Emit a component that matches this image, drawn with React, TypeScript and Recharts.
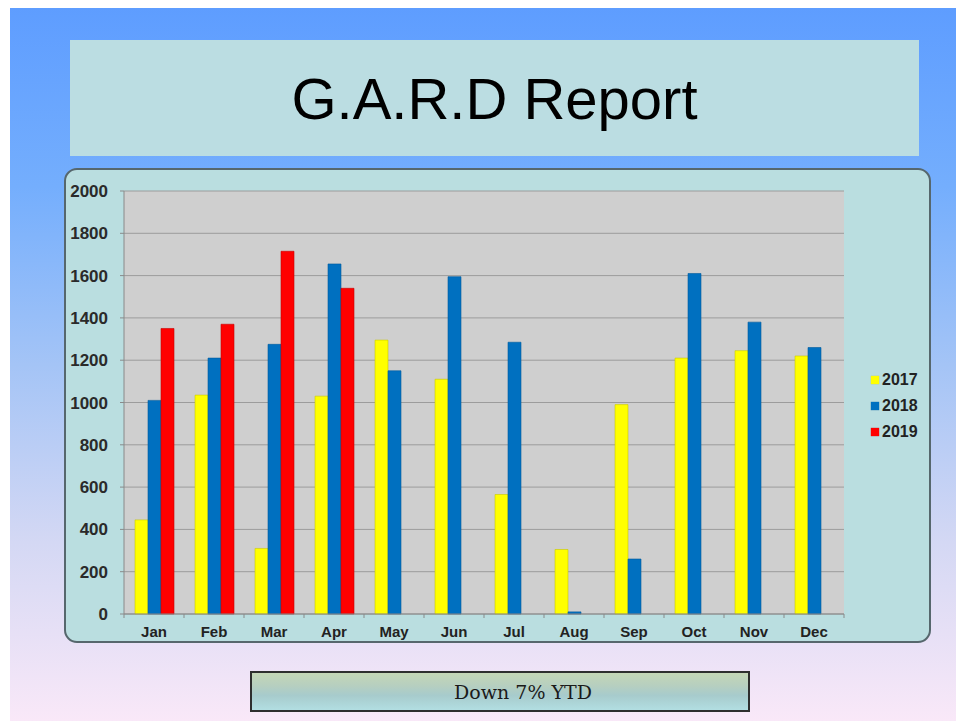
import React from 'react';
import { BarChart, Bar, XAxis, YAxis, CartesianGrid, Legend } from 'recharts';

const months = ['Jan', 'Feb', 'Mar', 'Apr', 'May', 'Jun', 'Jul', 'Aug', 'Sep', 'Oct', 'Nov', 'Dec'];
const values2017 = [445, 1035, 310, 1030, 1295, 1110, 565, 305, 990, 1210, 1245, 1220];
const values2018 = [1010, 1210, 1275, 1655, 1150, 1595, 1285, 10, 260, 1610, 1380, 1260];
const values2019 = [1350, 1370, 1715, 1540, null, null, null, null, null, null, null, null];
const yTicks = [0, 200, 400, 600, 800, 1000, 1200, 1400, 1600, 1800, 2000];
const seriesNames = ['2017', '2018', '2019'];
const seriesColors = ['#ffff00', '#0070c0', '#ff0000'];
const seriesStrokes = ['#c9c900', '#005a9c', '#c80000'];

const data = months.map((m, i) => ({
  month: m,
  y2017: values2017[i],
  y2018: values2018[i],
  y2019: values2019[i],
}));

const FONT = '"Liberation Sans", Arial, sans-serif';

const XTick = (props: any) => {
  const { x, y, payload, index } = props;
  const off = payload && payload.offset ? payload.offset : 0;
  const axisY = y - 8;
  return (
    <g>
      <line x1={x - off} y1={axisY} x2={x - off} y2={axisY + 4} stroke="#8a8a8a" />
      {index === months.length - 1 ? (
        <line x1={x + off} y1={axisY} x2={x + off} y2={axisY + 4} stroke="#8a8a8a" />
      ) : null}
      <text x={x} y={axisY + 12} dy="0.71em" textAnchor="middle" fill="#222" fontSize={15} fontWeight="bold" fontFamily={FONT}>
        {payload.value}
      </text>
    </g>
  );
};

const LegendContent = () => (
  <div style={{ fontFamily: FONT }}>
    {seriesNames.map((n, i) => (
      <div key={n} style={{ display: 'flex', alignItems: 'center', height: 26 }}>
        <div style={{ width: 8, height: 8, background: seriesColors[i], marginRight: 3, boxShadow: '0 0 1px ' + seriesStrokes[i] }} />
        <span style={{ fontSize: 16, fontWeight: 'bold', color: '#222' }}>{n}</span>
      </div>
    ))}
  </div>
);

export default function App() {
  return (
    <div style={{ position: 'absolute', left: 0, top: 0, width: 956, height: 721, background: '#ffffff', overflow: 'hidden' }}>
      <div
        style={{
          position: 'absolute', left: 10, top: 8, width: 946, height: 713,
          background: 'linear-gradient(to bottom, #5e9dff 0%, #74aefd 25%, #a4c4f6 50%, #d4d8f4 75%, #f9e8f8 100%)',
        }}
      />
      <div
        style={{
          position: 'absolute', left: 70, top: 40, width: 849, height: 116, background: '#bbdde2',
          display: 'flex', alignItems: 'center', justifyContent: 'center',
          fontFamily: FONT, fontSize: 58, color: '#000',
        }}
      >
        G.A.R.D Report
      </div>
      <div
        style={{
          position: 'absolute', left: 64, top: 168, width: 867, height: 475, boxSizing: 'border-box',
          background: '#badee0', border: '2px solid #56676d', borderRadius: 13,
        }}
      />
      <div style={{ position: 'absolute', left: 64, top: 168 }}>
        <BarChart width={867} height={475} data={data} margin={{ top: 23, right: 7, left: 0, bottom: 0 }} barGap={0} barSize={13}>
          <CartesianGrid vertical={false} stroke="#9c9c9c" fill="#cfcfcf" />
          <XAxis dataKey="month" height={29} axisLine={{ stroke: '#8a8a8a' }} tickLine={false} tick={<XTick />} interval={0} />
          <YAxis
            width={60}
            domain={[0, 2000]}
            ticks={yTicks}
            interval={0}
            axisLine={{ stroke: '#8a8a8a' }}
            tickLine={{ stroke: '#8a8a8a' }}
            tickSize={4}
            tickMargin={12}
            tick={{ fill: '#2a2a2a', fontSize: 17, fontWeight: 'bold', fontFamily: FONT }}
          />
          <Legend
            layout="vertical"
            align="right"
            verticalAlign="middle"
            content={<LegendContent />}
            wrapperStyle={{ width: 80, left: 807 }}
          />
          <Bar dataKey="y2017" name="2017" fill={seriesColors[0]} stroke={seriesStrokes[0]} strokeWidth={0.6} isAnimationActive={false} />
          <Bar dataKey="y2018" name="2018" fill={seriesColors[1]} stroke={seriesStrokes[1]} strokeWidth={0.6} isAnimationActive={false} />
          <Bar dataKey="y2019" name="2019" fill={seriesColors[2]} stroke={seriesStrokes[2]} strokeWidth={0.6} isAnimationActive={false} />
        </BarChart>
      </div>
      <div
        style={{
          position: 'absolute', left: 250, top: 671, width: 500, height: 41, boxSizing: 'border-box',
          border: '2px solid #2e2e2e',
          background: 'linear-gradient(to bottom, #c4d6b6 0%, #b6cfc0 35%, #a7cbcc 60%, #b2dee2 100%)',
          display: 'flex', alignItems: 'center', justifyContent: 'center',
          fontFamily: '"DejaVu Serif", "Liberation Serif", serif', fontSize: 19, color: '#1a1a1a',
          paddingLeft: 46,
        }}
      >
        Down 7% YTD
      </div>
    </div>
  );
}
